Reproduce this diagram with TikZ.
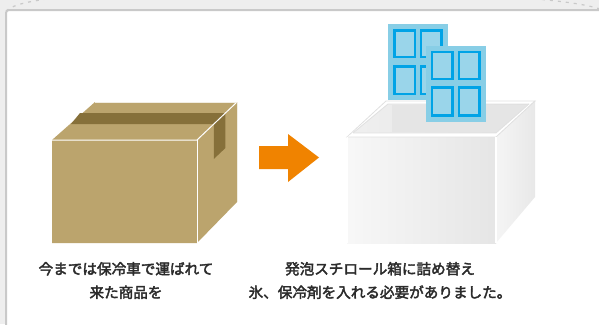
\documentclass[tikz,border=0pt]{standalone}
\usepackage{fontspec}
\newfontfamily\jpfont[FakeBold=2.6]{Noto Sans CJK JP}

\definecolor{pagegray}{HTML}{EEEEEE}
\definecolor{framegray}{HTML}{C9C9C9}
\definecolor{boxtan}{HTML}{BBA46D}
\definecolor{tapebrown}{HTML}{86703A}
\definecolor{arroworange}{HTML}{F08300}
\definecolor{icelight}{HTML}{88CEE6}
\definecolor{iceblue}{HTML}{00A3E6}
\definecolor{captiongray}{HTML}{2B2B2B}

\tikzset{
  caption/.style={font=\jpfont\fontsize{14.6}{23.5}\selectfont, text=captiongray, align=center},
  icepack/.style={fill=icelight},
  icecell/.style={draw=iceblue, line width=2.4pt, fill=icelight!85!white},
  rimline/.style={draw=black!12, line width=0.8pt}
}

\begin{document}
\begin{tikzpicture}[x=1pt, y=-1pt]

\useasboundingbox (0,0) rectangle (599,324);

% BACKGROUND
\fill[pagegray] (0,0) rectangle (599,324);
\draw[framegray, line width=1.2pt, dash pattern=on 3pt off 5pt] (6,11) .. controls (14,4) and (30,1) .. (62,-3);
\draw[framegray, line width=1.2pt, dash pattern=on 3pt off 5pt] (526,-2) .. controls (560,1) and (585,4) .. (600,9);

% PANEL
\draw[fill=white, draw=framegray, line width=2pt, rounded corners=3pt] (6,10) -- (606,10) -- (606,330) -- (6,330) -- cycle;

% CARDBOARD BOX
\fill[boxtan] (52,140) -- (95,102) -- (237,102) -- (237,202) -- (197,243) -- (52,243) -- cycle;
% tape on the lid and down the side
\fill[tapebrown] (80,113) -- (225.4,113) -- (225.4,148) -- (213.8,159) -- (213.8,124) -- (71,124) -- cycle;
% edges
\draw[white, line width=1pt] (52,140) -- (197,140) -- (237,102);
\draw[white, line width=1pt] (197,140) -- (197,243);
\draw[white!80!boxtan, line width=0.6pt] (95,102) -- (237,102) -- (237,202);

% ARROW
\fill[arroworange] (259,146) -- (288,146) -- (288,134) -- (319,157.5) -- (288,182) -- (288,169) -- (259,169) -- cycle;

% STYROFOAM BOX (rim and back wall inside)
\fill[white] (347,137) -- (386,101) -- (535,101) -- (496,137) -- cycle;
\draw[rimline] (347,137) -- (386,101) -- (535,101) -- (496,137) -- cycle;
\shade[left color=black!6, right color=black!12] (353,133) -- (388,104) -- (529,104) -- (496,133) -- cycle;
\fill[black!10] (392,105) -- (527,105) -- (527,132) -- (392,132) -- cycle;
\draw[rimline] (353,133) -- (388,104) -- (529,104);

% ICE PACKS
\fill[icepack] (388,24) rectangle (448,100);
\draw[icecell] (394.5,30.5) rectangle (415,57);
\draw[icecell] (421,30.5) rectangle (441.5,57);
\draw[icecell] (394.5,66.5) rectangle (415,94);
\draw[icecell] (421,66.5) rectangle (441.5,94);
\fill[icepack] (426,46) rectangle (486,122);
\draw[icecell] (432,52) rectangle (452.5,79);
\draw[icecell] (459,52) rectangle (479.5,79);
\draw[icecell] (432,87.5) rectangle (452.5,115.5);
\draw[icecell] (459,87.5) rectangle (479.5,115.5);

% STYROFOAM BOX (front and side)
\shade[left color=black!3, right color=black!10] (347,137) rectangle (496,243);
\shade[left color=black!4, right color=black!9] (496,137) -- (535,101) -- (535,197) -- (496,243) -- cycle;
\fill[white] (347,137) -- (496,137) -- (529,106) -- (529,104) -- (496,133) -- (353,133) -- cycle;
\draw[rimline] (347,137) -- (496,137) -- (535,101);
\draw[rimline] (353,133) -- (496,133) -- (529,104);
\draw[white, line width=1.2pt] (496,137) -- (496,243);
\draw[white, line width=1pt] (347,137) -- (347,243);

% CAPTIONS
\node[caption] (oldway) at (126,280.5) {今までは保冷車で運ばれて\\来た商品を};
\node[caption] (newway) at (380,280.5) {発泡スチロール箱に詰め替え\\氷、保冷剤を入れる必要がありました。};

\end{tikzpicture}
\end{document}
